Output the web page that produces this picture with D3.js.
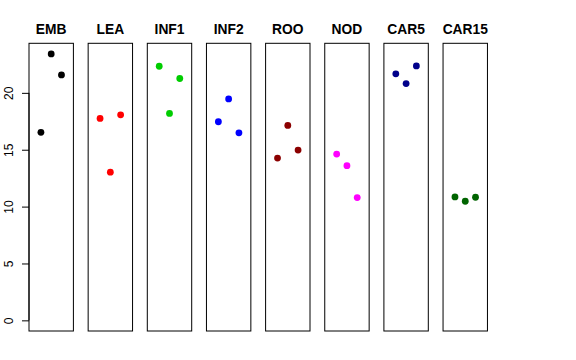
<!DOCTYPE html>
<html><head><meta charset="utf-8">
<script src="https://cdn.jsdelivr.net/npm/d3@7"></script>
<style>body{margin:0;background:#fff}svg{display:block}</style>
</head><body>
<svg id="c" width="576" height="360"></svg>
<script>
const categories = ["EMB","LEA","INF1","INF2","ROO","NOD","CAR5","CAR15"];
const colors = ["#000000","#FF0000","#00CD00","#0000FF","#8B0000","#FF00FF","#00008B","#006400"];
const EMB   = [16.53, 23.42, 21.58];
const LEA   = [17.75, 13.03, 18.07];
const INF1  = [22.34, 18.19, 21.26];
const INF2  = [17.46, 19.47, 16.49];
const ROO   = [14.27, 17.14, 14.97];
const NOD   = [14.62, 13.60, 10.79];
const CAR5  = [21.67, 20.82, 22.37];
const CAR15 = [10.85, 10.47, 10.82];
const series = [EMB, LEA, INF1, INF2, ROO, NOD, CAR5, CAR15];
const yTicks = [0, 5, 10, 15, 20];

(function(){
const svg = d3.select("#c");
const plotTop = 43.3, plotBottom = 331;
const ymax = 23.42;
const y = d3.scaleLinear().domain([-0.04*ymax, ymax*1.04]).range([plotBottom, plotTop]);
const panelLeft = 29, panelStep = 59.15, panelW = 44.4;
const xDom = [0 - 0.16, 4 + 0.16];

categories.forEach((cat, i) => {
  const x0 = panelLeft + i*panelStep;
  const x = d3.scaleLinear().domain(xDom).range([x0, x0 + panelW]);
  const g = svg.append("g");
  g.append("rect").attr("x", x0).attr("y", plotTop).attr("width", panelW).attr("height", plotBottom - plotTop)
    .attr("fill", "none").attr("stroke", "#000").attr("stroke-width", 1);
  g.selectAll("circle").data(series[i]).join("circle")
    .attr("cx", (d, j) => x(j + 1)).attr("cy", d => y(d)).attr("r", 3.4)
    .attr("fill", colors[i]);
  g.append("text").attr("x", x0 + panelW/2).attr("y", 34)
    .attr("text-anchor", "middle").attr("font-family", "Liberation Sans, Arial, sans-serif")
    .attr("font-weight", "bold").attr("font-size", "13.8px").text(cat);
});

const yAxis = d3.axisLeft(y).tickValues(yTicks).tickSize(7).tickFormat(d3.format("d"));
const ag = svg.append("g").attr("transform", `translate(${panelLeft},0)`).call(yAxis);
ag.select(".domain").attr("d", `M0,${y(0)}V${y(20)}`).attr("stroke", "#000");
ag.selectAll(".tick line").attr("stroke", "#000");
ag.selectAll(".tick text").attr("x", null).attr("dy", null)
  .attr("text-anchor", "middle")
  .attr("transform", "translate(-16.3,0) rotate(-90)")
  .attr("font-family", "Liberation Sans, Arial, sans-serif").attr("font-size", "12px").attr("fill", "#000");
})();
</script>
</body></html>
